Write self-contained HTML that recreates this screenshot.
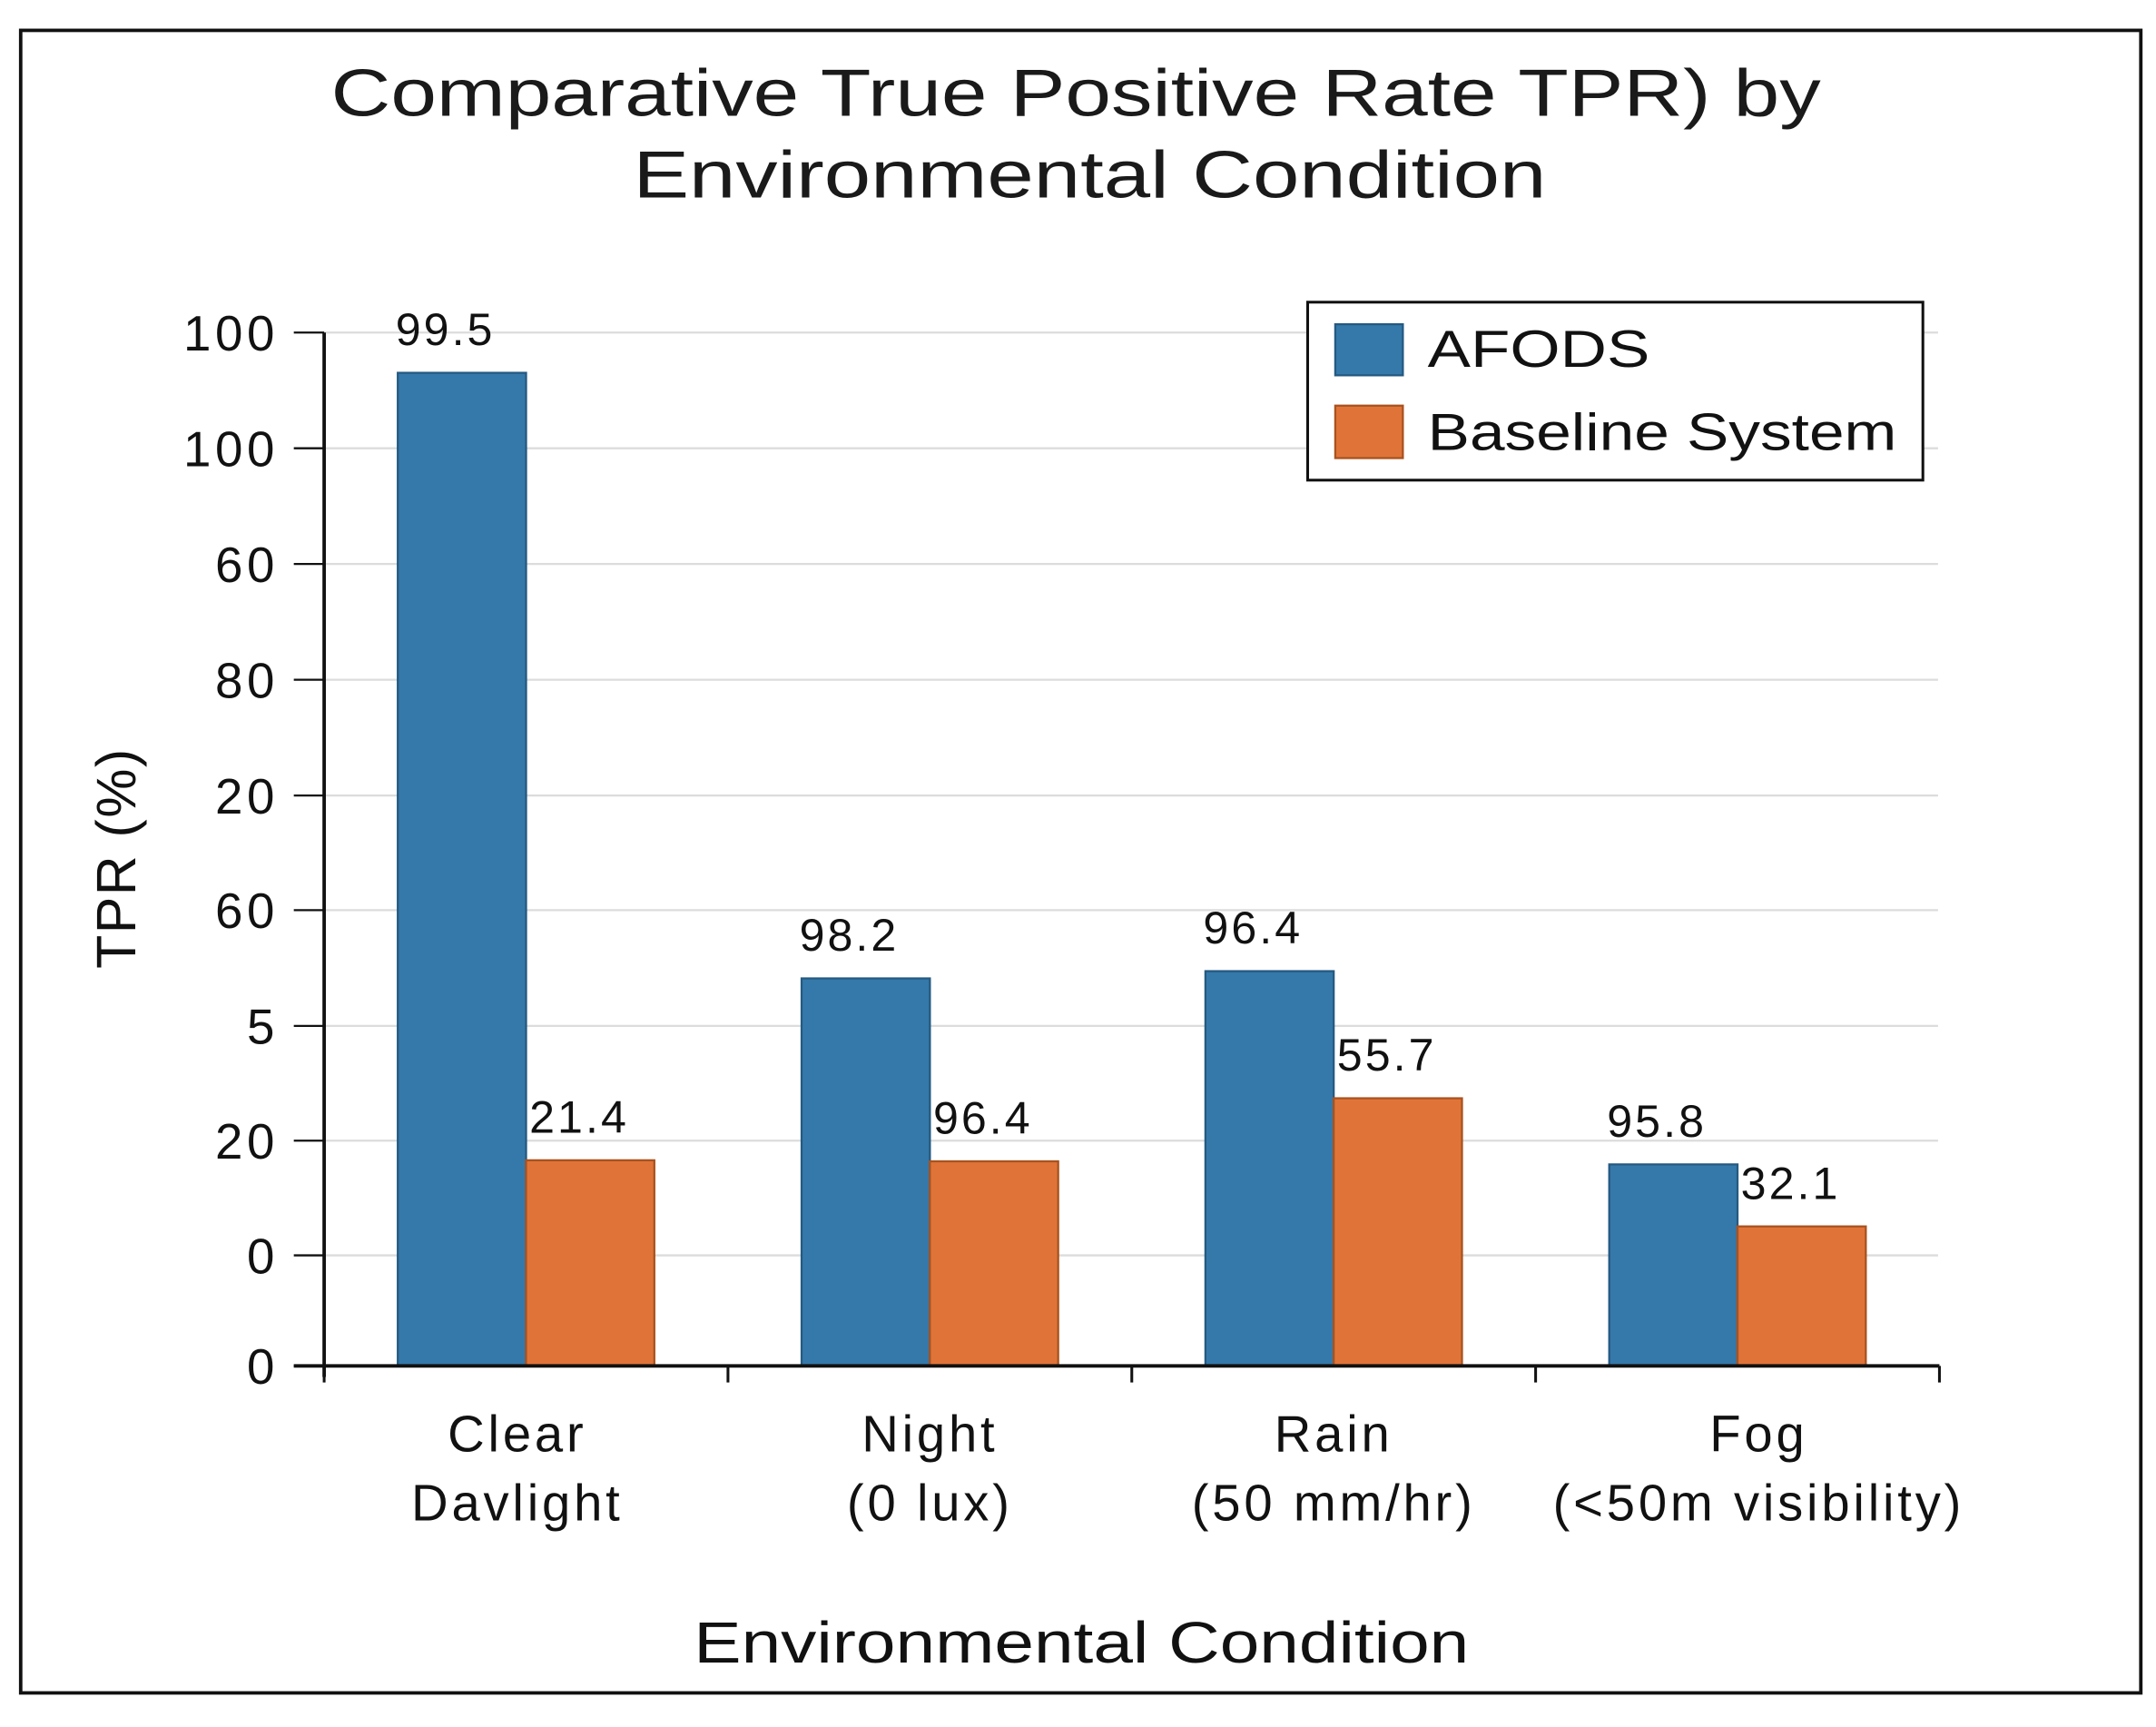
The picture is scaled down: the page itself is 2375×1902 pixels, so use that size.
<!DOCTYPE html>
<html><head><meta charset="utf-8"><style>
html,body{margin:0;padding:0;background:#fff;}
svg{display:block;font-family:"Liberation Sans",sans-serif;}
</style></head><body>
<svg id="chart" width="2375" height="1902" viewBox="0 0 1563 1251.7" xmlns="http://www.w3.org/2000/svg">
<rect x="15" y="22" width="1537" height="1205" fill="#fff" stroke="#111" stroke-width="2.5"/>
<text x="240" y="84" font-size="48" textLength="1080" lengthAdjust="spacingAndGlyphs" fill="#1a1a1a">Comparative True Positive Rate TPR) by</text>
<text x="459" y="143" font-size="48" textLength="662" lengthAdjust="spacingAndGlyphs" fill="#1a1a1a">Environmental Condition</text>
<g id="grid"></g>
<g id="bars"></g>
<g id="axes"></g>
<text transform="translate(98,622) rotate(-90)" font-size="40" letter-spacing="1" text-anchor="middle" fill="#111">TPR (%)</text>
<text x="503" y="1205" font-size="42" textLength="562" lengthAdjust="spacingAndGlyphs" fill="#111">Environmental Condition</text>
<g>
<rect x="948" y="219" width="446" height="129" fill="#fff" stroke="#111" stroke-width="2"/>
<rect x="968" y="235" width="49" height="37" fill="#3579aa" stroke="#245a82" stroke-width="1.5"/>
<text x="1035" y="266" font-size="38" textLength="161" lengthAdjust="spacingAndGlyphs" fill="#111">AFODS</text>
<rect x="968" y="294" width="49" height="38" fill="#e07438" stroke="#a9521f" stroke-width="1.5"/>
<text x="1035" y="326" font-size="38" textLength="340" lengthAdjust="spacingAndGlyphs" fill="#111">Baseline System</text>
</g>
</svg>
<script>
const categories = ["Clear|Davlight", "Night|(0 lux)", "Rain|(50 mm/hr)", "Fog|(<50m visibility)"];
const afodsValues = [96.1, 37.5, 38.2, 19.5];
const baselineValues = [19.9, 19.8, 25.9, 13.5];
const afodsLabels = ["99.5", "98.2", "96.4", "95.8"];
const baselineLabels = ["21.4", "96.4", "55.7", "32.1"];
const yTickLabels = ["0", "0", "20", "5", "60", "20", "80", "60", "100", "100"];
const yTickValues = [0, 10.7, 21.8, 32.9, 44.1, 55.2, 66.4, 77.6, 88.8, 100];

const NS = "http://www.w3.org/2000/svg";
const X0 = 235, X1 = 1406, Y0 = 990, Y1 = 241;
function yScale(v){ return Y0 - (v/100)*(Y0-Y1); }
const groupW = (X1-X0)/categories.length;
function xCenter(i){ return X0 + groupW*(i+0.5); }
function mk(tag, attrs, parent){ const e=document.createElementNS(NS,tag); for(const k in attrs) e.setAttribute(k, attrs[k]); parent.appendChild(e); return e; }
const grid=document.getElementById('grid'), bars=document.getElementById('bars'), axes=document.getElementById('axes');

yTickValues.forEach((v,i)=>{
  const y=yScale(v);
  if(i>0){
    const g=mk('line',{x1:X0,x2:1405,y1:y,y2:y,stroke:'#dcdcdc','stroke-width':1.5},grid);
    
    
  }
  const t=mk('line',{x1:X0-22,x2:X0,y1:y,y2:y,stroke:'#111','stroke-width':1.5},axes);
  
  
  const l=mk('text',{x:X0-33,y:y+13,'font-size':36,'letter-spacing':3,'text-anchor':'end',fill:'#111'},axes);
  l.textContent=yTickLabels[i];
  
  
});

const barW=93;
categories.forEach((c,i)=>{
  const cx=xCenter(i);
  const ya=yScale(afodsValues[i]), yb=yScale(baselineValues[i]);
  const a=mk('rect',{x:cx-barW,y:ya,width:barW,height:Y0-ya,fill:'#3579aa',stroke:'#245a82','stroke-width':1.5},bars);
  
  
  const b=mk('rect',{x:cx,y:yb,width:barW,height:Y0-yb,fill:'#e07438',stroke:'#a9521f','stroke-width':1.5},bars);
  
  
  const la=mk('text',{x:cx-barW/2-12,y:ya-20,'font-size':33,'letter-spacing':2,'text-anchor':'middle',fill:'#111'},bars);
  la.textContent=afodsLabels[i];
  
  
  const lb=mk('text',{x:cx+barW/2-8,y:yb-20,'font-size':33,'letter-spacing':2,'text-anchor':'middle',fill:'#111'},bars);
  lb.textContent=baselineLabels[i];
  
  
  const parts=c.split('|');
  const lx = i===3 ? 1275 : (i===0 ? 375 : cx);
  parts.forEach((p,j)=>{
    const t=mk('text',{x:lx,y:1052+j*50,'font-size':37,'letter-spacing':2.5,'text-anchor':'middle',fill:'#111'},axes);
    t.textContent=p;
    
    
  });
});
for(let i=0;i<=categories.length;i++){
  const x=X0+groupW*i;
  const t=mk('line',{x1:x,x2:x,y1:Y0,y2:Y0+12,stroke:'#111','stroke-width':2},axes);
  
  
}
const ya=mk('line',{x1:X0,x2:X0,y1:Y1,y2:Y0+8,stroke:'#111','stroke-width':2.5},axes);


const xa=mk('line',{x1:X0-22,x2:X1,y1:Y0,y2:Y0,stroke:'#111','stroke-width':2.5},axes);


</script>
</body></html>
